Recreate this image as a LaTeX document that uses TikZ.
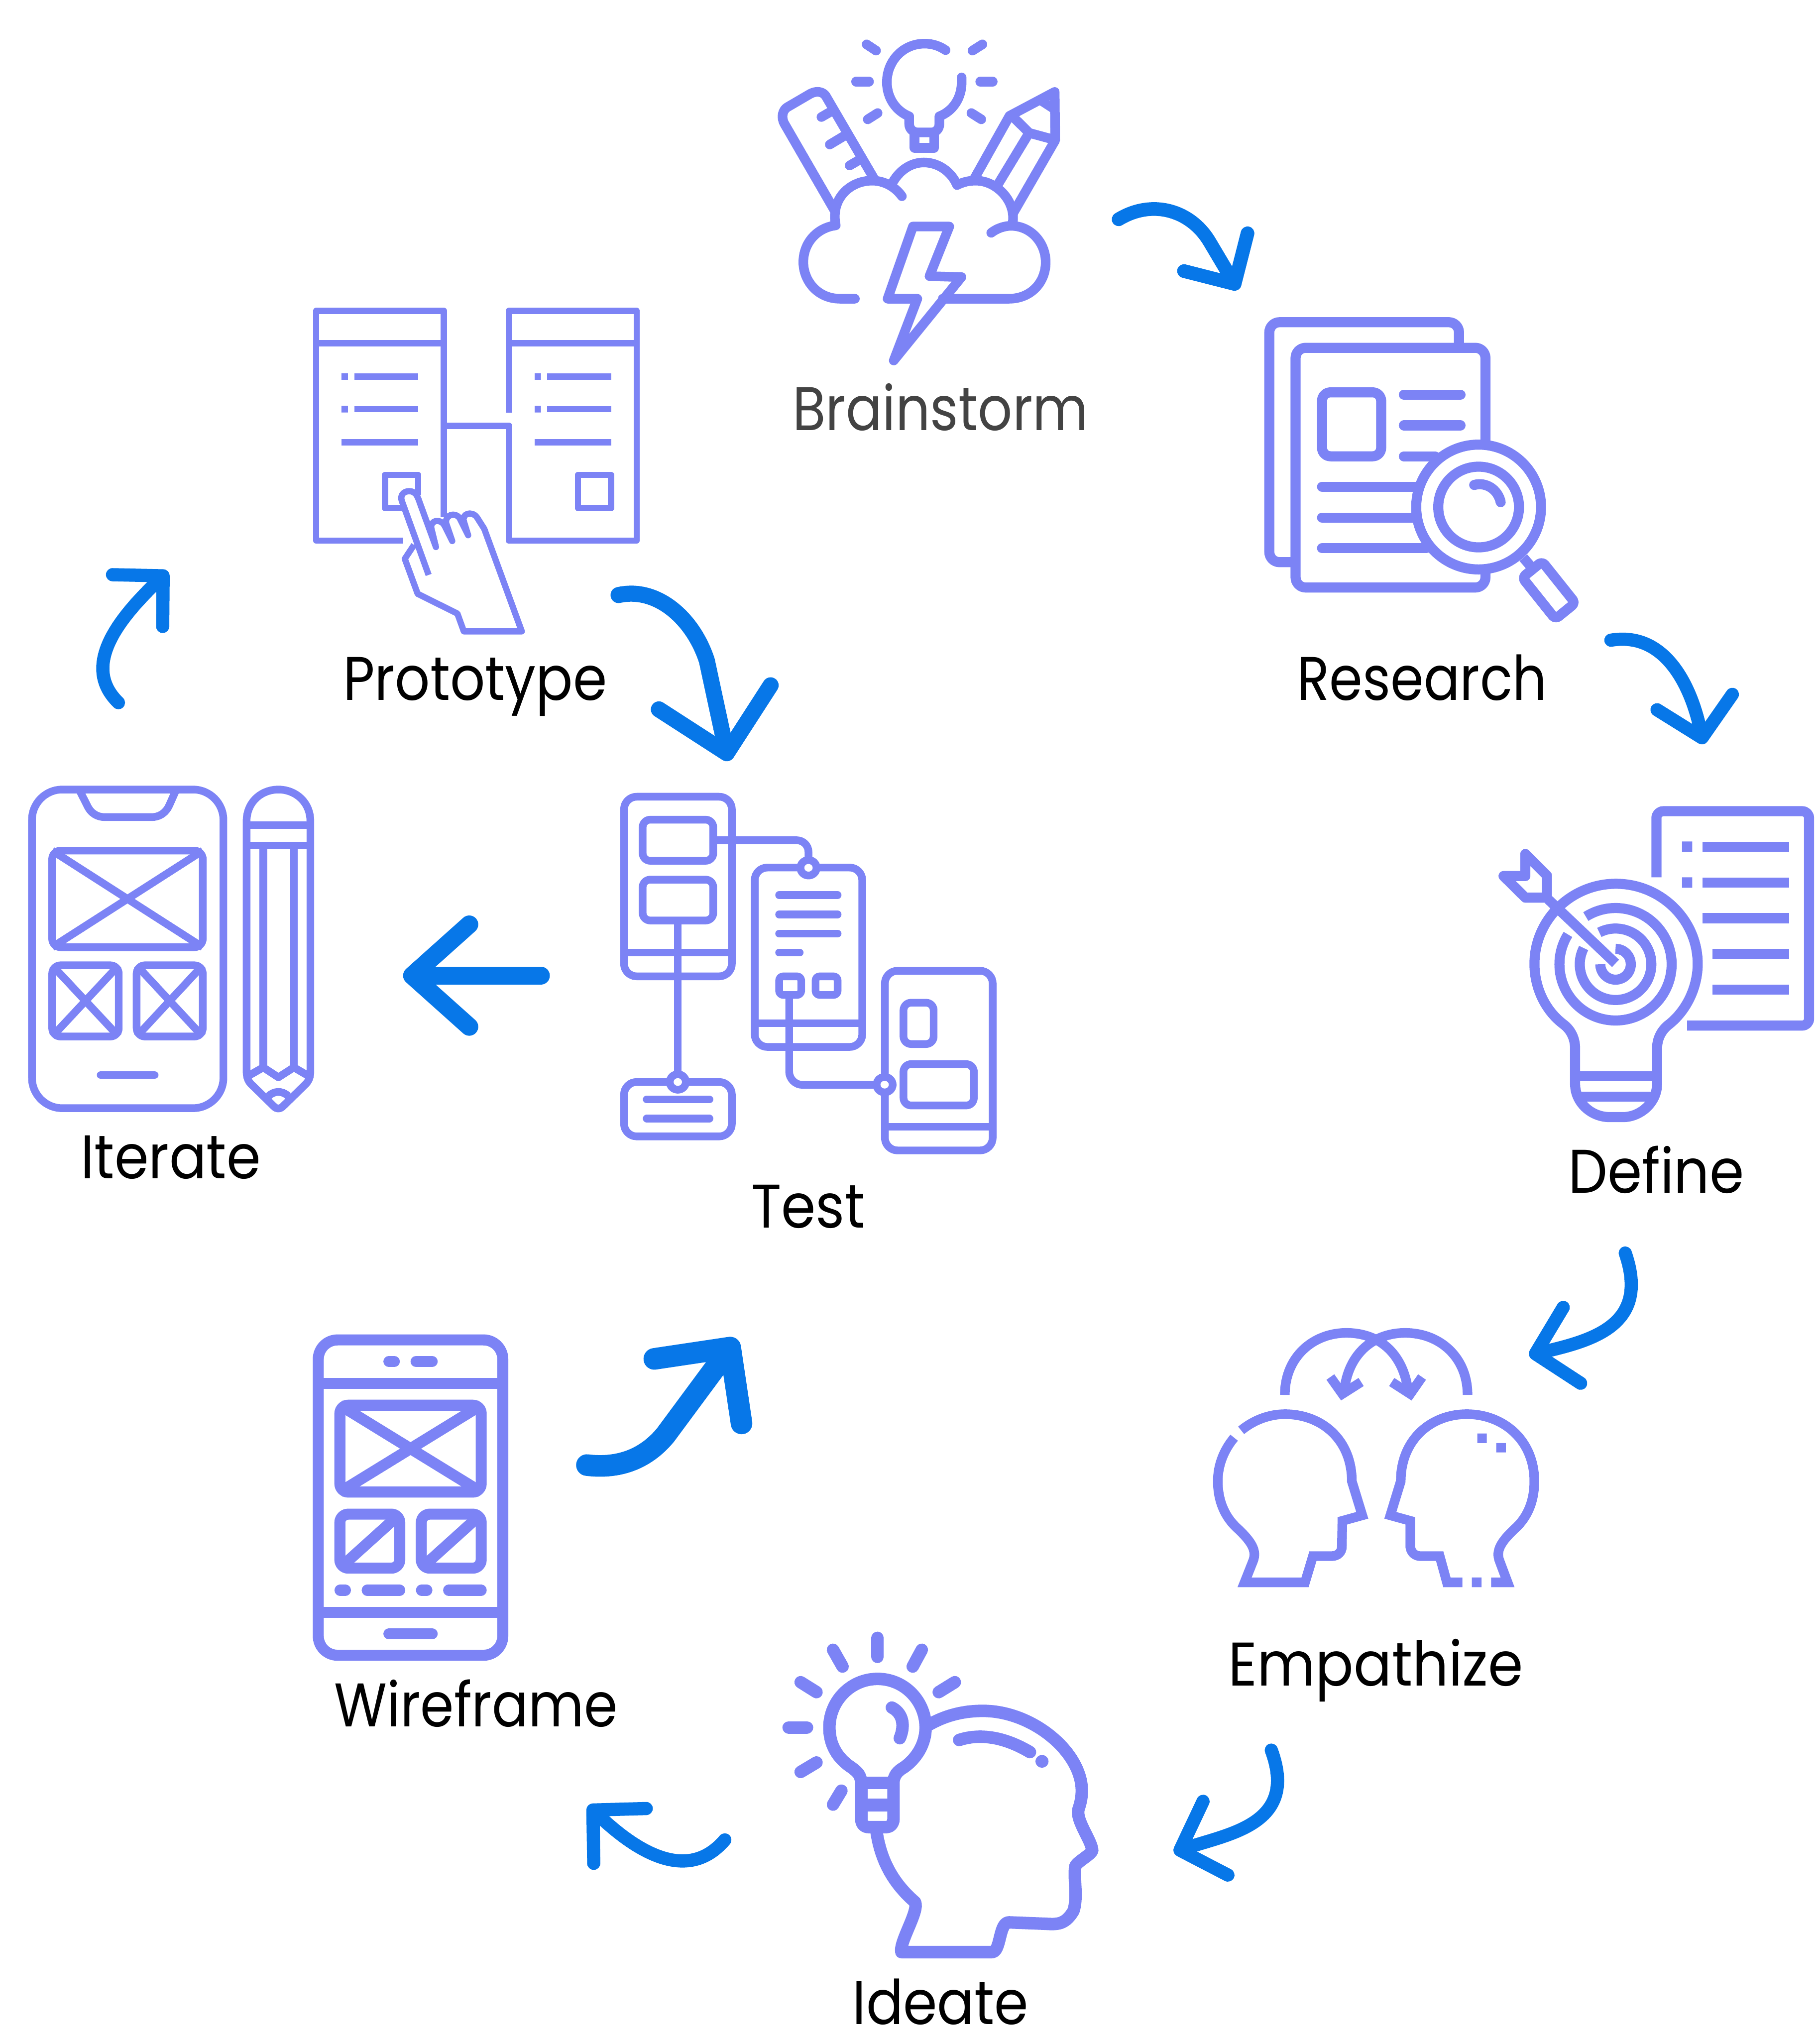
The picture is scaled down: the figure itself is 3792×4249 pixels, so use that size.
\documentclass[tikz,border=0pt]{standalone}
\usepackage{fontspec}
\usepackage{graphicx}
\setmainfont{Poppins}
\usetikzlibrary{arrows.meta}
\definecolor{iconc}{HTML}{7C83F5}
\definecolor{arrowc}{HTML}{0777E8}
\definecolor{graytext}{HTML}{434343}
\tikzset{
  zv/.style n args={4}{shift={(#1,#2)},x=#3cm,y=-#4cm},
  ic/.style={draw=iconc,line width=#1*0.01cm,line join=round},
  rc/.style={ic=#1,line cap=round},
  ib/.style={draw=iconc,line width=#1*0.01cm,line join=miter,miter limit=10},
  lab/.style={anchor=base,inner sep=0pt,outer sep=0pt,font=\fontsize{36.5}{44}\selectfont,text=black},
  arr/.style n args={3}{draw=arrowc,line width=#3cm,line cap=round,line join=round,-{Straight Barb[round,length=#1cm,width=#2cm]}}
}
\newcommand\lw[2]{\resizebox{#1cm}{\height}{#2}}
\begin{document}
\begin{tikzpicture}[x=0.01cm,y=-0.01cm]
\useasboundingbox (0,0) rectangle (3792,4249);
\fill[white] (0,0) rectangle (3792,4249);

% ---- Brainstorm
\begin{scope}[zv={1560}{40}{.004592}{.004847}]
\draw[rc=20] (893,133) .. controls (850,105) and (810,105) .. (797,105) .. controls (700,105) and (627,180) .. (627,270) .. controls (627,340) and (670,395) .. (728,417) -- (728,450) .. controls (728,470) and (745,486) .. (765,486) -- (830,486) .. controls (850,486) and (865,470) .. (865,450) -- (865,417) .. controls (925,395) and (966,340) .. (966,270) .. controls (966,262) and (966,255) .. (966,250);
\draw[rc=20] (752,486) -- (752,552) -- (842,552) -- (842,486);
\foreach \a/\b/\c/\d in {535/108/578/135,1060/108/1015/135,487/268/546/268,1050/268/1107/268,540/430/585/403,1010/403/1055/430}
  \draw[rc=20] (\a,\b) -- (\c,\d);
\draw[ic=20] (392,825) -- (163,450) .. controls (145,420) and (155,390) .. (175,378) -- (280,320) .. controls (310,305) and (338,312) .. (350,330) -- (572,690);
\draw[rc=20] (330,420) -- (372,397) (368,538) -- (435,500) (458,628) -- (500,605);
\draw[ic=20] (1020,690) -- (1183,415) -- (1388,312) -- (1390,520) -- (1195,840);
\draw[ic=20] (1200,420) -- (1272,488) -- (1388,518) (1272,488) -- (1130,710) (1320,345) -- (1385,385);
\draw[rc=20] (482,1200) -- (415,1200) .. controls (310,1200) and (248,1120) .. (248,1043) .. controls (248,960) and (310,895) .. (395,885) .. controls (370,770) and (460,693) .. (560,693) .. controls (615,693) and (665,720) .. (695,760);
\draw[rc=20] (648,710) .. controls (680,650) and (735,615) .. (795,615) .. controls (860,615) and (920,655) .. (945,712) .. controls (975,698) and (1000,693) .. (1030,693) .. controls (1130,693) and (1220,790) .. (1195,885);
\draw[rc=20] (1100,917) .. controls (1130,895) and (1165,887) .. (1190,887) .. controls (1280,887) and (1347,960) .. (1347,1043) .. controls (1347,1130) and (1280,1200) .. (1180,1200) -- (880,1200);
\draw[rc=20] (745,890) -- (910,890) -- (820,1103) -- (965,1107) -- (658,1465) -- (765,1200) -- (630,1200) -- cycle;
\end{scope}

% ---- Research
\begin{scope}[zv={2600}{620}{.004592}{.004592}]
\draw[ic=21,rounded corners=6pt] (958,228) -- (958,112) -- (98,112) -- (98,1200) -- (218,1200);
\draw[ic=21,rounded corners=6pt] (1078,665) -- (1078,228) -- (217,228) -- (217,1315) -- (1078,1315) -- (1078,1240);
\draw[ic=21,rounded corners=5pt] (337,430) rectangle (605,720);
\draw[rc=21] (708,441) -- (965,441) (708,580) -- (965,580) (708,720) -- (850,720) (337,858) -- (770,858) (337,998) -- (750,998) (337,1137) -- (810,1137);
\draw[ic=21] (1047,950) circle [radius=283];
\draw[ic=21] (1047,950) circle [radius=183];
\draw[rc=21] (1027,850) .. controls (1080,835) and (1135,870) .. (1147,928);
\draw[ic=21] (1250,1180) -- (1280,1215);
\draw[ic=21,rounded corners=2.5pt] (1335,1197) -- (1485,1385) -- (1395,1458) -- (1245,1270) -- cycle;
\end{scope}

% ---- Define
\begin{scope}[zv={3100}{1650}{.004413}{.004592}]
\draw[ic=21] (355,1052) .. controls (265,985) and (221,880) .. (221,780) .. controls (221,580) and (395,417) .. (606,417) .. controls (817,417) and (992,580) .. (992,780) .. controls (992,880) and (945,985) .. (860,1052) .. controls (820,1080) and (800,1120) .. (800,1165) -- (800,1325) .. controls (800,1410) and (720,1475) .. (640,1475) -- (575,1475) .. controls (490,1475) and (413,1410) .. (413,1325) -- (413,1165) .. controls (413,1120) and (395,1080) .. (355,1052) -- cycle;
\draw[ib=21] (413,1290) -- (800,1290) (430,1383) -- (785,1383);
\draw[ic=21,rounded corners=4pt] (797,388) -- (797,88) -- (1518,88) -- (1518,1060) -- (942,1060);
\fill[iconc] (918,225) rectangle (966,272) (918,388) rectangle (966,435);
\draw[ib=21] (1014,249) -- (1423,249) (1014,412) -- (1423,412) (1014,573) -- (1423,573) (1062,735) -- (1423,735) (1062,897) -- (1423,897);
\draw[ib=21] (604,782) ++(-122:265 and 255) arc [start angle=-122,end angle=212,x radius=265,y radius=255];
\draw[ib=21] (604,782) ++(-117:169 and 162) arc [start angle=-117,end angle=207,x radius=169,y radius=162];
\draw[ib=21] (604,782) ++(-90:72 and 70) arc [start angle=-90,end angle=180,x radius=72,y radius=70];
\draw[ib=21] (604,778) -- (285,487);
\draw[ic=21] (178,282) -- (280,380) -- (280,480) -- (178,480) -- (75,382) -- (178,382) -- cycle;
\end{scope}

% ---- Empathize
\begin{scope}[zv={2500}{2740}{.004719}{.003827}]
\draw[ib=20] (376,435) .. controls (376,230) and (500,98) .. (648,98) .. controls (800,98) and (905,220) .. (922,430);
\draw[ib=20] (1183,435) .. controls (1183,230) and (1060,98) .. (908,98) .. controls (760,98) and (650,220) .. (637,430);
\draw[ib=20] (577,338) -- (630,430) -- (713,365);
\draw[ib=20] (848,365) -- (930,430) -- (982,338);
\draw[ib=20] (183,628) .. controls (240,570) and (310,540) .. (376,540) .. controls (540,540) and (672,680) .. (672,905) -- (718,1090) -- (630,1120) -- (628,1260) .. controls (628,1290) and (610,1312) .. (583,1312) -- (500,1312) -- (465,1455) -- (198,1455) -- (235,1340) .. controls (255,1280) and (225,1230) .. (170,1165) .. controls (110,1100) and (80,1010) .. (80,905) .. controls (80,810) and (110,730) .. (152,668);
\draw[ib=20] (1160,1455) -- (1092,1455) -- (1060,1312) -- (975,1312) .. controls (950,1312) and (932,1290) .. (930,1260) -- (930,1120) -- (842,1090) -- (888,905) .. controls (888,680) and (1020,540) .. (1180,540) .. controls (1340,540) and (1478,680) .. (1478,905) .. controls (1478,1010) and (1450,1100) .. (1390,1165) .. controls (1335,1230) and (1305,1280) .. (1325,1340) -- (1360,1455) -- (1287,1455);
\fill[iconc] (1202,1428) rectangle (1245,1481) (1226,645) rectangle (1268,697) (1310,697) rectangle (1352,748);
\end{scope}

% ---- Ideate
\begin{scope}[zv={1600}{3380}{.004719}{.004592}]
\draw[ic=26] (413,730) .. controls (410,690) and (395,680) .. (370,660) .. controls (310,620) and (272,560) .. (272,478) .. controls (272,360) and (365,258) .. (485,258) .. controls (605,258) and (697,360) .. (697,478) .. controls (697,560) and (650,625) .. (600,660) .. controls (575,675) and (555,695) .. (555,730) -- (555,895) .. controls (555,915) and (540,930) .. (525,930) -- (445,930) .. controls (425,930) and (413,915) .. (413,895) -- cycle;
\draw[ib=26] (413,730) -- (555,730) (413,830) -- (555,830);
\draw[rc=26] (548,388) .. controls (590,410) and (610,460) .. (583,527);
\foreach \a/\b/\c/\d in {485/72/485/158,288/126/330/202,680/126/640/202,145/273/215/318,826/273/755/318,92/478/173/478,145/680/215/637,288/828/325/765}
  \draw[rc=26] (\a,\b) -- (\c,\d);
\draw[ic=26] (710,467) .. controls (790,420) and (870,403) .. (950,403) .. controls (1170,403) and (1387,590) .. (1387,765) .. controls (1387,800) and (1380,825) .. (1372,850) .. controls (1360,900) and (1430,990) .. (1433,1035) .. controls (1430,1055) and (1360,1090) .. (1358,1110) .. controls (1350,1160) and (1370,1250) .. (1350,1310) .. controls (1310,1380) and (1270,1370) .. (1215,1368) -- (1065,1362) .. controls (1020,1362) and (1030,1497) .. (990,1497) -- (590,1497) .. controls (580,1450) and (670,1310) .. (650,1270) .. controls (560,1190) and (500,1090) .. (480,950);
\draw[rc=26] (845,535) .. controls (950,500) and (1060,530) .. (1158,590);
\fill[iconc] (1211,632) circle [radius=29];
\end{scope}

% ---- Wireframe
\begin{scope}[zv={630}{2760}{.003333}{.004592}]
\draw[ic=23,rounded corners=11.4pt] (100,70) rectangle (1255,1500);
\draw[ib=23] (100,268) -- (1255,268) (100,1305) -- (1255,1305);
\draw[rc=23] (542,168) -- (576,168) (712,168) -- (813,168) (542,1403) -- (813,1403) (236,1205) -- (270,1205) (406,1205) -- (610,1205) (746,1205) -- (780,1205) (916,1205) -- (1120,1205);
\draw[ic=23,rounded corners=5pt] (235,366) rectangle (1120,760);
\draw[ic=23] (235,366) -- (1120,760) (1120,366) -- (235,760);
\draw[ic=23,rounded corners=5pt] (235,860) rectangle (610,1105);
\draw[ic=23] (610,860) -- (235,1105);
\draw[ic=23,rounded corners=5pt] (745,860) rectangle (1120,1105);
\draw[ic=23] (1120,860) -- (745,1105);
\end{scope}

% ---- Test
\begin{scope}[zv={1270}{1630}{.005230}{.005038}]
\tikzset{pho/.style={ic=16,rounded corners=7.5pt},sb/.style={ic=16,rounded corners=4.5pt},sbt/.style={ic=16,rounded corners=2.5pt}}
\draw[pho] (58,60) rectangle (487,803);
\draw[ib=16] (58,705) -- (487,705);
\draw[sb] (132,155) rectangle (413,325);
\draw[sb] (132,403) rectangle (413,572);
\draw[ic=16,rounded corners=7pt] (413,240) -- (792,240) -- (792,330);
\draw[ib=16] (272,572) -- (272,1205);
\draw[pho] (58,1240) rectangle (487,1465);
\draw[rc=16] (148,1312) -- (398,1312) (148,1391) -- (398,1391);
\draw[pho] (578,353) rectangle (1006,1095);
\draw[ib=16] (578,997) -- (1006,997);
\draw[rc=16] (675,467) -- (908,467) (675,547) -- (908,547) (675,626) -- (908,626) (675,705) -- (757,705);
\draw[sbt] (675,803) rectangle (763,880);
\draw[sbt] (820,803) rectangle (908,880);
\draw[ic=16,rounded corners=8pt] (715,880) -- (715,1252) -- (1060,1252);
\draw[pho] (1096,780) rectangle (1525,1523);
\draw[ib=16] (1096,1425) -- (1525,1425);
\draw[sb] (1170,912) rectangle (1290,1083);
\draw[sb] (1170,1166) rectangle (1450,1337);
\draw[ic=16,fill=white] (792,354) circle [radius=32];
\draw[ic=16,fill=white] (272,1240) circle [radius=32];
\draw[ic=16,fill=white] (1095,1251) circle [radius=32];
\end{scope}

% ---- Iterate
\begin{scope}[zv={40}{1620}{.004082}{.004592}]
\draw[ic=16,rounded corners=18pt] (65,55) rectangle (1040,1500);
\draw[ic=16] (305,55) -- (345,125) .. controls (365,165) and (400,180) .. (435,180) -- (675,180) .. controls (710,180) and (745,165) .. (765,125) -- (800,55);
\draw[ic=16,rounded corners=5pt] (168,332) rectangle (935,770);
\draw[ic=16] (168,332) -- (935,770) (935,332) -- (168,770);
\draw[ic=16,rounded corners=5pt] (168,852) rectangle (507,1175);
\draw[ic=16] (168,852) -- (507,1175) (507,852) -- (168,1175);
\draw[ic=16,rounded corners=5pt] (598,852) rectangle (935,1175);
\draw[ic=16] (598,852) -- (935,1175) (935,852) -- (598,1175);
\draw[rc=16] (415,1350) -- (690,1350);
\draw[ic=16] (1158,1330) -- (1158,200) .. controls (1158,110) and (1235,55) .. (1320,55) .. controls (1405,55) and (1483,110) .. (1483,200) -- (1483,1330) .. controls (1483,1360) and (1475,1375) .. (1460,1390) -- (1345,1490) .. controls (1330,1505) and (1310,1505) .. (1295,1490) -- (1180,1390) .. controls (1165,1375) and (1158,1360) .. (1158,1330) -- cycle;
\draw[ib=16] (1158,216) -- (1483,216) (1158,309) -- (1483,309) (1243,309) -- (1243,1318) (1399,309) -- (1399,1318);
\draw[ic=16] (1170,1352) -- (1243,1315) -- (1320,1360) -- (1399,1315) -- (1470,1352);
\draw[ic=16] (1270,1445) .. controls (1300,1420) and (1340,1420) .. (1370,1445);
\end{scope}

% ---- Prototype
\begin{scope}[zv={640}{630}{.004464}{.004464}]
\draw[ic=13] (447,1110) -- (42,1110) -- (42,40) -- (637,40) -- (637,1000);
\draw[ib=13] (42,190) -- (637,190);
\fill[iconc] (160,330) rectangle (190,361) (160,482) rectangle (190,513) (1060,330) rectangle (1089,361) (1060,482) rectangle (1089,513);
\draw[ib=13] (220,345.5) -- (517,345.5) (220,497.5) -- (517,497.5) (160,652) -- (517,652) (1118,345.5) -- (1416,345.5) (1118,497.5) -- (1416,497.5) (1060,652) -- (1416,652);
\draw[ic=13] (440,958) -- (363,958) -- (363,804) -- (517,804) -- (517,900);
\draw[ic=13] (637,575) -- (940,575) -- (940,1110) -- (1535,1110) -- (1535,40) -- (940,40) -- (940,515);
\draw[ib=13] (940,190) -- (1535,190);
\draw[ic=13] (1262,804) rectangle (1416,958);
\draw[ic=13] (566,1270) -- (441,925) .. controls (430,890) and (460,878) .. (480,880) .. controls (500,882) and (510,895) .. (518,915) -- (600,1140) -- (578,1050) .. controls (575,1015) and (620,1005) .. (640,1040) -- (676,1112) -- (648,1030) .. controls (640,990) and (690,975) .. (710,1005) -- (750,1085) -- (730,1020) .. controls (720,985) and (765,970) .. (790,1000) -- (825,1055) -- (1000,1533) -- (730,1533) -- (700,1450) -- (515,1358) -- (455,1195) -- (498,1130);
\end{scope}

% ---- Labels
\node[lab,text=graytext] (brainstorm) at (1960,897) {\lw{6.16}{Brainstorm}};
\node[lab] (research) at (2963,1459) {\lw{5.20}{Research}};
\node[lab] (define) at (3451,2486) {\lw{3.66}{Define}};
\node[lab] (empathize) at (2867,3513) {\lw{6.14}{Empathize}};
\node[lab] (ideate) at (1960,4218) {\lw{3.66}{Ideate}};
\node[lab] (wireframe) at (992,3598) {\lw{5.90}{Wireframe}};
\node[lab] (test) at (1684,2559) {\lw{2.37}{Test}};
\node[lab] (iterate) at (356,2456) {\lw{3.74}{Iterate}};
\node[lab] (prototype) at (990,1459) {\lw{5.50}{Prototype}};

% ---- Arrows (full-size coordinates)
\coordinate (a1s) at (2331,457); \coordinate (a1e) at (2580,604);
\coordinate (a6s) at (1223,3053); \coordinate (a6e) at (1535,2790);
\coordinate (a7s) at (1127,2033); \coordinate (a7e) at (840,2033);
\coordinate (a9s) at (1289,1240); \coordinate (a9e) at (1518,1586);
\draw[arr={0.77}{1.54}{0.285}] (a1s) .. controls (2400,415) and (2480,437) .. (2520,503) -- (a1e);
\draw[arr={1.13}{2.26}{0.45}] (a6s) .. controls (1280,3060) and (1340,3047) .. (1387,2990) -- (a6e);
\draw[arr={1.19}{2.13}{0.375}] (a7s) -- (a7e);
\draw[arr={1.19}{2.38}{0.335}] (a9s) .. controls (1370,1222) and (1445,1290) .. (1473,1377) -- (a9e);
\begin{scope}[x=0.027105cm,y=-0.027105cm]
\coordinate (a2s) at (1238,492); \coordinate (a2e) at (1309,572);
\coordinate (a3s) at (1249,963); \coordinate (a3e) at (1175,1041.5);
\coordinate (a4s) at (977,1345); \coordinate (a4e) at (902,1423.5);
\coordinate (a5s) at (557,1414); \coordinate (a5e) at (452,1387.5);
\coordinate (a8s) at (91,540); \coordinate (a8e) at (129,439);
\draw[arr={0.76}{1.60}{0.275}] (a2s) .. controls (1280,485) and (1300,528) .. (a2e);
\draw[arr={0.78}{1.62}{0.275}] (a3s) .. controls (1268,1018) and (1225,1030) .. (a3e);
\draw[arr={0.78}{1.62}{0.275}] (a4s) .. controls (998,1402) and (945,1409) .. (a4e);
\draw[arr={0.78}{1.58}{0.275}] (a5s) .. controls (528,1448) and (488,1422) .. (a5e);
\draw[arr={0.74}{1.50}{0.275}] (a8s) .. controls (60,510) and (96,471) .. (a8e);
\end{scope}
\end{tikzpicture}
\end{document}
